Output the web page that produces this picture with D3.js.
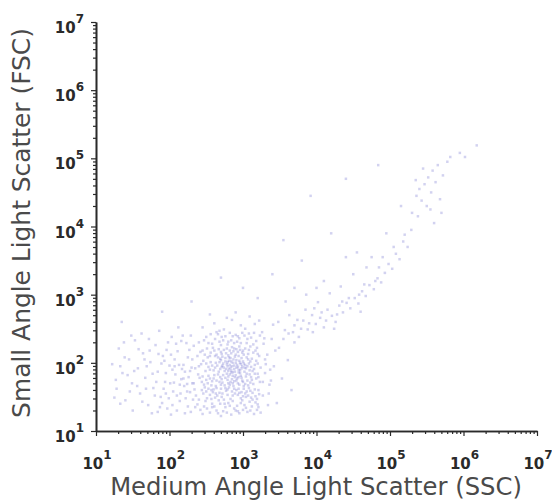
<!DOCTYPE html>
<html><head><meta charset="utf-8">
<script src="https://cdn.jsdelivr.net/npm/d3@7"></script>
<style>body{margin:0;background:#fff}svg{display:block}</style>
</head><body>
<svg id="c" width="552" height="504"></svg>
<script>
const xTitle = "Medium Angle Light Scatter (SSC)";
const yTitle = "Small Angle Light Scatter (FSC)";
const decadeExponents = [1,2,3,4,5,6,7];
const minorMultipliers = [2,3,4,5,6,7,8,9];
// events as [log10 SSC, log10 FSC]
const coreEvents = [
[2.42,1.31],[2.55,1.27],[2.61,1.36],[2.73,1.29],[2.80,1.41],[2.88,1.33],[2.95,1.26],[3.02,1.38],[3.10,1.30],[3.17,1.42],[2.49,1.44],[2.67,1.45],[2.84,1.24],[2.99,1.45],[3.21,1.35],[2.38,1.39],[2.92,1.37],[2.76,1.35],[3.06,1.28],[2.58,1.40],[2.70,1.22],[3.13,1.46],[2.45,1.25],[2.86,1.44],[3.24,1.27],
[2.36,1.52],[2.44,1.60],[2.51,1.48],[2.59,1.57],[2.64,1.63],[2.71,1.50],[2.77,1.59],[2.83,1.47],[2.89,1.55],[2.94,1.62],[3.00,1.51],[3.05,1.58],[3.11,1.49],[3.16,1.61],[3.22,1.54],[2.48,1.64],[2.68,1.56],[2.81,1.64],[2.97,1.48],[3.08,1.63],[2.55,1.53],[2.74,1.46],[2.91,1.60],[3.03,1.55],[2.62,1.49],[2.86,1.52],[3.19,1.47],[2.40,1.46],[2.79,1.61],[3.13,1.56],
[2.33,1.70],[2.41,1.78],[2.47,1.68],[2.53,1.81],[2.58,1.73],[2.63,1.66],[2.69,1.79],[2.72,1.71],[2.78,1.84],[2.82,1.68],[2.85,1.76],[2.90,1.82],[2.93,1.70],[2.98,1.78],[3.01,1.66],[3.06,1.74],[3.09,1.83],[3.14,1.69],[3.18,1.77],[3.23,1.72],[2.50,1.75],[2.66,1.83],[2.75,1.67],[2.88,1.73],[2.96,1.85],[3.04,1.80],[2.60,1.77],[2.80,1.80],[2.87,1.66],[3.11,1.79],[2.44,1.72],[2.71,1.76],[2.95,1.68],[3.20,1.84],[2.84,1.86],[2.92,1.77],[2.57,1.67],[3.00,1.72],
[2.35,1.92],[2.43,1.98],[2.49,1.88],[2.56,2.01],[2.62,1.93],[2.67,1.87],[2.73,1.99],[2.77,1.91],[2.81,2.03],[2.84,1.89],[2.88,1.96],[2.91,2.04],[2.94,1.90],[2.97,1.98],[3.02,1.87],[3.06,1.95],[3.10,2.02],[3.15,1.91],[3.20,1.99],[2.53,1.94],[2.70,2.04],[2.79,1.95],[2.86,2.00],[2.93,1.94],[3.00,2.02],[3.04,1.92],[2.65,1.96],[2.83,1.93],[2.89,1.87],[3.08,1.99],[2.46,2.03],[2.75,1.88],[2.99,1.95],[3.13,1.88],[2.60,1.89],[2.90,2.00],[2.82,1.97],[3.24,1.93],[2.71,1.94],[2.96,1.89],
[2.38,2.10],[2.45,2.18],[2.52,2.08],[2.59,2.22],[2.64,2.12],[2.69,2.06],[2.74,2.19],[2.80,2.11],[2.85,2.23],[2.89,2.09],[2.93,2.16],[2.98,2.07],[3.03,2.21],[3.07,2.13],[3.12,2.06],[3.17,2.18],[3.22,2.10],[2.56,2.15],[2.77,2.14],[2.87,2.17],[2.95,2.24],[3.01,2.12],[2.67,2.20],[2.83,2.07],[3.10,2.24],[2.48,2.12],[2.91,2.20],[2.72,2.09],
[2.40,2.30],[2.50,2.38],[2.58,2.28],[2.66,2.42],[2.73,2.33],[2.79,2.27],[2.86,2.39],[2.92,2.31],[2.99,2.44],[3.05,2.29],[3.11,2.37],[3.18,2.32],[2.62,2.35],[2.82,2.44],[2.95,2.36],[3.08,2.43],[2.70,2.26],[2.88,2.29],[3.14,2.27],
[2.45,2.52],[2.61,2.58],[2.74,2.49],[2.85,2.63],[2.97,2.55],[3.09,2.68],[2.55,2.71],[2.78,2.66],[3.03,2.50],[2.90,2.74],[3.16,2.57],[2.68,2.47],[3.22,2.62]
];
const coreEvents2 = [
[2.51,1.33],[2.64,1.30],[2.78,1.27],[2.90,1.30],[3.04,1.34],[3.15,1.25],[2.57,1.47],[2.69,1.40],[2.82,1.37],[2.97,1.41],[3.09,1.43],[3.20,1.39],
[2.46,1.55],[2.60,1.61],[2.72,1.55],[2.85,1.58],[2.98,1.57],[3.07,1.52],[3.17,1.51],[2.53,1.62],[2.76,1.63],[2.93,1.53],[3.01,1.62],[2.65,1.52],
[2.39,1.83],[2.52,1.70],[2.61,1.82],[2.68,1.72],[2.76,1.78],[2.83,1.72],[2.91,1.74],[2.97,1.81],[3.03,1.69],[3.12,1.75],[3.16,1.84],[2.86,1.81],[2.73,1.82],[2.94,1.79],[3.07,1.67],[2.80,1.70],
[2.40,1.95],[2.55,1.90],[2.63,2.00],[2.69,1.91],[2.76,2.02],[2.80,1.88],[2.85,1.95],[2.87,2.05],[2.92,1.97],[2.95,2.03],[2.98,1.92],[3.03,1.97],[3.07,2.05],[3.11,1.94],[3.18,2.03],[2.78,1.98],[2.88,1.91],[2.72,1.96],[3.01,1.99],[2.94,1.86],
[2.42,2.16],[2.55,2.10],[2.61,2.18],[2.71,2.13],[2.78,2.21],[2.84,2.14],[2.90,2.12],[2.96,2.19],[3.05,2.08],[3.14,2.15],[2.81,2.08],[2.99,2.15],[2.66,2.08],[3.19,2.22],
[2.47,2.33],[2.56,2.42],[2.68,2.31],[2.76,2.39],[2.84,2.33],[2.97,2.29],[3.02,2.40],[3.15,2.44],[2.90,2.41],[2.64,2.45]
];
const coreEvents3 = [
[2.58,1.35],[2.66,1.26],[2.75,1.40],[2.93,1.29],[3.00,1.31],[3.12,1.36],[3.19,1.31],[2.47,1.36],
[2.50,1.58],[2.63,1.55],[2.70,1.62],[2.79,1.53],[2.88,1.62],[2.95,1.56],[3.04,1.50],[3.10,1.59],[3.21,1.60],[2.57,1.60],
[2.45,1.80],[2.55,1.77],[2.64,1.74],[2.70,1.68],[2.79,1.75],[2.86,1.70],[2.89,1.79],[2.99,1.74],[3.05,1.84],[3.10,1.71],[3.21,1.79],[2.82,1.83],
[2.50,1.99],[2.58,1.96],[2.68,2.01],[2.74,1.93],[2.81,1.91],[2.86,1.86],[2.91,1.93],[2.96,2.00],[3.02,1.93],[3.09,1.89],[3.16,1.97],[2.79,2.01],[2.84,2.02],
[2.51,2.21],[2.62,2.10],[2.70,2.16],[2.76,2.07],[2.82,2.18],[2.88,2.21],[2.94,2.10],[3.00,2.18],[3.08,2.19],[3.20,2.13],
[2.53,2.29],[2.71,2.38],[2.80,2.31],[2.93,2.39],[3.06,2.35],[3.23,2.40],
[3.27,1.72],[3.30,2.05],[3.35,1.55],[3.29,2.36],[3.37,1.90]
];
const leftEvents = [
[1.22,1.98],[1.28,1.62],[1.31,2.21],[1.36,1.85],[1.40,1.45],[1.45,2.05],[1.49,1.70],[1.53,2.33],[1.57,1.92],[1.60,1.55],[1.64,2.14],[1.67,1.78],[1.71,1.38],[1.74,2.01],[1.78,1.63],[1.81,2.26],[1.84,1.87],[1.88,1.50],[1.91,2.10],[1.94,1.72],[1.97,1.33],[2.00,1.96],[2.03,2.38],[2.05,1.58],[2.08,1.83],[2.11,2.17],[2.14,1.44],[2.17,1.91],[2.20,1.66],[2.23,2.29],[2.26,1.79],[2.29,1.28],[2.31,2.05],[2.34,1.61],[1.62,2.43],[1.86,2.47],[2.12,2.52],[1.50,1.30],[1.76,1.26],[2.02,1.24],[2.25,1.36],[1.93,2.03],[2.19,1.97],[2.27,2.19],[2.06,1.71],[1.99,1.48],[2.15,1.55],[2.21,1.87],[1.69,1.95],[1.82,1.72],[2.09,2.28],[2.32,1.46],[1.56,1.66],[1.43,1.82],[1.38,2.30],[1.25,1.49],[2.30,1.93],[2.18,2.40],[1.96,2.19],[2.24,1.69],[2.04,1.90],[2.16,1.76],[2.28,1.57],[1.89,1.99],[1.73,2.18]
];
const leftEvents2 = [
[1.27,1.75],[1.33,1.40],[1.39,2.08],[1.46,1.58],[1.52,1.88],[1.58,2.20],[1.63,1.43],[1.68,1.62],[1.72,2.35],[1.77,1.84],[1.80,1.52],[1.85,2.13],[1.87,1.35],[1.92,1.62],[1.95,1.85],[1.98,2.30],[2.01,1.70],[2.04,1.38],[2.07,2.05],[2.10,1.52],[2.13,1.97],[2.16,2.32],[2.19,1.77],[2.22,1.48],[2.25,2.08],[2.28,1.88],[2.31,1.70],[2.33,2.25],[2.35,1.35],[2.10,1.30],[1.84,1.28],[2.21,1.26],[1.95,1.55],[2.07,1.95],[2.24,1.58],[2.14,1.68],[2.02,2.12],[1.90,1.41],[2.29,2.40],[1.66,2.05],[1.48,2.40],[1.33,1.95]
];
const edgeEvents = [
[3.27,1.52],[3.30,1.85],[3.33,2.12],[3.36,1.68],[3.39,2.35],[3.42,1.95],[3.46,1.41],[3.49,2.22],[3.53,1.77],[3.57,2.48],[3.61,2.04],[3.66,1.60],[3.28,2.28],[3.34,1.38],[3.41,2.56],[3.31,1.98],[3.38,1.74],[3.44,2.18],[3.70,2.30],[3.26,2.45]
];
const tailEvents = [
[3.62,2.43],[3.70,2.55],[3.76,2.38],[3.82,2.62],[3.88,2.49],[3.94,2.70],[3.99,2.57],[4.05,2.66],[4.10,2.52],[4.15,2.78],[4.21,2.69],[4.26,2.60],[4.31,2.84],[4.36,2.74],[4.41,2.88],[4.46,2.80],[4.52,2.95],[4.57,2.87],[4.62,3.05],[4.67,2.98],[4.72,3.14],[4.78,3.08],[4.83,3.24],[4.88,3.18],[4.93,3.32],[4.98,3.45],[5.03,3.38],[5.08,3.60],[5.13,3.52],[5.18,3.78],[5.24,3.70],[5.29,3.95],[3.85,2.78],[4.02,2.89],[4.18,3.02],[4.33,3.12],[4.50,3.30],[4.68,3.40],[4.40,3.55],[4.10,3.20],[3.95,2.45],[4.24,2.50],[4.60,2.75],[4.85,3.40],[4.55,3.62],[4.75,3.55],
[3.48,2.60],[3.55,2.35],[3.63,2.70],[3.68,2.45],[3.74,2.63],[3.79,2.50],[3.90,2.58],[3.97,2.80],[4.07,2.74],[4.13,2.62],[4.28,2.71],[4.35,2.90],[4.44,2.95],[4.58,3.00],[4.65,3.15],[4.80,3.20],[4.90,3.55],[5.05,3.70],[5.20,3.88],[3.58,2.90],[3.86,3.00],[4.00,3.10]
];
const topEvents = [
[5.30,4.20],[5.36,4.45],[5.40,4.55],[5.43,4.38],[5.47,4.62],[5.50,4.30],[5.52,4.72],[5.56,4.50],[5.58,4.82],[5.62,4.65],[5.65,4.90],[5.68,4.40],[5.72,4.75],[5.38,4.15],[5.45,4.85],[5.55,4.25],[5.35,4.68],[5.78,4.95],[5.82,5.02],[5.95,5.08],[6.18,5.19],[6.02,5.02],[5.60,4.05]
];
const strayEvents = [
[4.84,4.90],[3.92,4.45],[3.55,3.80],[4.20,3.90],[3.40,3.30],[3.70,3.10],[4.95,3.90],[5.15,4.30],[3.20,2.95],[3.00,3.10],[2.70,3.25],[4.40,4.70],[5.70,4.20],[3.80,3.50],[2.30,2.90],[1.90,2.75],[1.35,2.60]
];

const svg = d3.select("#c");
const plot = {l:96, r:537, t:22, b:431};
const x = d3.scaleLog().domain([1e1,1e7]).range([plot.l, plot.r]);
const y = d3.scaleLog().domain([1e1,1e7]).range([plot.b, plot.t]);

const defs = svg.append("defs");
defs.append("filter").attr("id","soft").attr("x","-5%").attr("y","-5%").attr("width","110%").attr("height","110%")
  .append("feGaussianBlur").attr("stdDeviation",0.55);

const events = [].concat(coreEvents, coreEvents2, coreEvents3, leftEvents, leftEvents2, edgeEvents, tailEvents, topEvents, strayEvents);
svg.append("g").attr("filter","url(#soft)").selectAll("rect").data(events).join("rect")
  .attr("x", d => x(Math.pow(10,d[0])) - 1.25)
  .attr("y", d => y(Math.pow(10,d[1])) - 1.25)
  .attr("width", 2.5).attr("height", 2.5)
  .attr("fill", "#5c5cc8").attr("fill-opacity", 0.27);

const majors = decadeExponents.map(e => Math.pow(10,e));
const minors = [];
decadeExponents.slice(0,-1).forEach(e => minorMultipliers.forEach(k => minors.push(k*Math.pow(10,e))));

function styleAxis(g){
  g.selectAll("path,line").attr("stroke","#2a2a2a");
  g.select(".domain").attr("stroke-width",1.6);
  g.selectAll("line").attr("stroke-width",1.2);
}
svg.append("g").attr("transform",`translate(0,${plot.b})`)
  .call(d3.axisBottom(x).tickValues(minors).tickSize(3).tickSizeOuter(0).tickFormat(""))
  .call(styleAxis);
svg.append("g").attr("transform",`translate(0,${plot.b})`)
  .call(d3.axisBottom(x).tickValues(majors).tickSize(5).tickSizeOuter(0).tickFormat(""))
  .call(styleAxis);
svg.append("g").attr("transform",`translate(${plot.l},0)`)
  .call(d3.axisLeft(y).tickValues(minors).tickSize(3).tickSizeOuter(0).tickFormat(""))
  .call(styleAxis);
svg.append("g").attr("transform",`translate(${plot.l},0)`)
  .call(d3.axisLeft(y).tickValues(majors).tickSize(5).tickSizeOuter(0).tickFormat(""))
  .call(styleAxis);

const font = "DejaVu Sans, Verdana, sans-serif";
function powLabel(sel, e){
  sel.append("tspan").text("10");
  sel.append("tspan").attr("dy", -10).attr("font-size", 12).text(String(e));
}
svg.append("g").selectAll("text").data(decadeExponents).join("text")
  .attr("x", e => x(Math.pow(10,e)) + 1)
  .attr("y", 469)
  .attr("text-anchor","middle")
  .attr("font-family", font).attr("font-weight","bold").attr("font-size",15).attr("fill","#2a2a2a")
  .each(function(e){ powLabel(d3.select(this), e); });
svg.append("g").selectAll("text").data(decadeExponents).join("text")
  .attr("x", 84)
  .attr("y", e => y(Math.pow(10,e)) + 11)
  .attr("text-anchor","end")
  .attr("font-family", font).attr("font-weight","bold").attr("font-size",15).attr("fill","#2a2a2a")
  .each(function(e){ powLabel(d3.select(this), e); });

const xt = svg.append("text").attr("font-family",font).attr("fill","#4a4a4a")
  .attr("font-size",20).attr("text-anchor","middle").text(xTitle);
const xw = xt.node().getComputedTextLength();
xt.attr("font-size", 20*412/xw).attr("x", 316).attr("y", 495);

const yt = svg.append("text").attr("font-family",font).attr("fill","#4a4a4a")
  .attr("font-size",20).attr("text-anchor","middle").text(yTitle);
const yw = yt.node().getComputedTextLength();
yt.attr("font-size", 20*390/yw).attr("transform","translate(30,223) rotate(-90)");
</script>
</body></html>
